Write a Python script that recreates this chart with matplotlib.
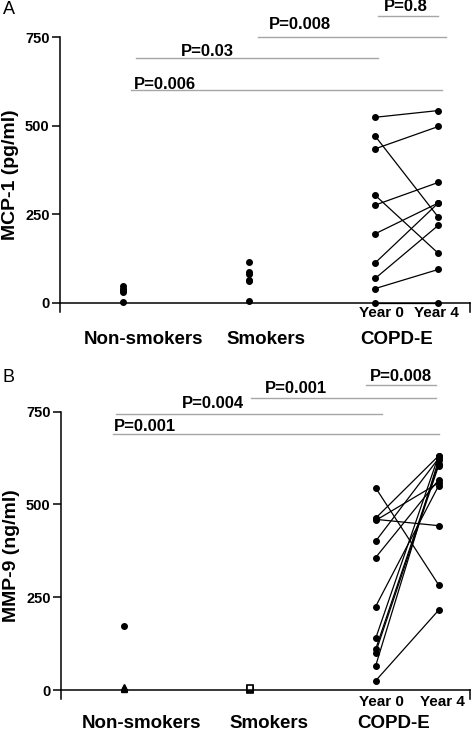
import matplotlib.pyplot as plt

plt.rcParams['font.family'] = ['Liberation Sans', 'DejaVu Sans']

W, H, DPI = 473, 732, 100

groups = ['Non-smokers', 'Smokers', 'COPD-E']
years = ['Year 0', 'Year 4']

# panel A: MCP-1 (pg/ml)
mcp_nonsmokers = [3, 30, 35, 40, 47]
mcp_smokers = [5, 60, 65, 80, 88, 115]
mcp_year0 = [524, 470, 435, 303, 276, 195, 113, 69, 40, 0]
mcp_year4 = [543, 241, 498, 139, 340, 282, 282, 219, 94, 0]
mcp_pvals = ['P=0.8', 'P=0.008', 'P=0.03', 'P=0.006']

# panel B: MMP-9 (ng/ml)
mmp_nonsmokers_dot = [172]
mmp_nonsmokers_tri = [2, 5, 8]
mmp_smokers = [1, 3, 5]
mmp_year0 = [545, 463, 460, 457, 401, 357, 225, 139, 110, 101, 65, 25]
mmp_year4 = [284, 631, 443, 558, 624, 566, 550, 631, 610, 604, 620, 215]
mmp_pvals = ['P=0.008', 'P=0.001', 'P=0.004', 'P=0.001']

# bracket layout: (x0, x1, line y, text x, text y)
brackets_a = [(3.02, 3.50, 809, 3.24, 836),
              (2.07, 3.56, 752, 2.40, 785),
              (1.10, 3.02, 691, 1.67, 709),
              (1.06, 3.53, 600, 1.33, 616)]
brackets_b = [(2.92, 3.48, 822, 3.20, 846),
              (2.01, 3.48, 786, 2.37, 813),
              (0.94, 3.05, 744, 1.71, 772),
              (0.91, 3.50, 689, 1.17, 709)]

fig = plt.figure(figsize=(W / DPI, H / DPI), dpi=DPI)


def make_axes(left, right, top, bottom):
    return fig.add_axes([left / W, 1 - bottom / H, (right - left) / W, (bottom - top) / H])


def style_axes(ax, ylabel, ext):
    ax.set_xlim(0.5, 3.75)
    ax.set_ylim(-ext, 750)
    for s in ['top', 'right']:
        ax.spines[s].set_visible(False)
    ax.spines['left'].set_bounds(-ext, 750)
    ax.spines['left'].set_linewidth(1.1)
    ax.spines['bottom'].set_position(('data', 0))
    ax.spines['bottom'].set_linewidth(1.1)
    ax.plot([3.75, 3.75], [0, -ext], color='black', lw=1.1, clip_on=False)
    ax.set_xticks([])
    ax.set_yticks([0, 250, 500, 750])
    ax.tick_params(axis='y', length=6, width=1.1, pad=1.5, labelsize=10.5)
    for t in ax.get_yticklabels():
        t.set_fontweight('bold')
    ax.set_ylabel(ylabel, fontsize=14, fontweight='bold', labelpad=4)


def draw_pairs(ax, y0, y4):
    for a, b in zip(y0, y4):
        ax.plot([3, 3.5], [a, b], color='black', lw=0.9, marker='o', ms=4, clip_on=False)


def draw_brackets(ax, brackets, labels):
    for (x0, x1, ly, tx, ty), lab in zip(brackets, labels):
        ax.plot([x0, x1], [ly, ly], color='#a6a6a6', lw=1.0, clip_on=False)
        ax.text(tx, ty, lab, ha='center', va='center', fontsize=12, fontweight='bold')


def draw_labels(ax, label_pos, year_pos, group_y, year_y):
    tr = ax.get_xaxis_transform()
    for x, g in zip(label_pos, groups):
        ax.text(x, group_y, g, transform=tr, ha='center', va='center',
                fontsize=13.5, fontweight='bold')
    for x, yr in zip(year_pos, years):
        ax.text(x, year_y, yr, transform=tr, ha='center', va='center',
                fontsize=11, fontweight='bold')


# ---- panel A
axA = make_axes(60, 470, 37.3, 311.5)
style_axes(axA, 'MCP-1 (pg/ml)', 25)
axA.plot([1] * len(mcp_nonsmokers), mcp_nonsmokers, 'o', color='black', ms=4, clip_on=False)
axA.plot([2] * len(mcp_smokers), mcp_smokers, 'o', color='black', ms=4, clip_on=False)
draw_pairs(axA, mcp_year0, mcp_year4)
draw_brackets(axA, brackets_a, mcp_pvals)
# label y in axes fraction: axes spans 37.3..311.5 px
fa = lambda py: (311.5 - py) / (311.5 - 37.3)
draw_labels(axA, [1.16, 2.13, 3.17], [3.045, 3.48], fa(340), fa(313))
fig.text(3 / W, 1 - 10 / H, 'A', fontsize=13, va='center', ha='left')

# ---- panel B
axB = make_axes(61, 470, 411.7, 699)
style_axes(axB, 'MMP-9 (ng/ml)', 24)
axB.plot([1] * len(mmp_nonsmokers_dot), mmp_nonsmokers_dot, 'o', color='black', ms=4, clip_on=False)
axB.plot([1] * len(mmp_nonsmokers_tri), mmp_nonsmokers_tri, '^', color='black', ms=4.5, clip_on=False)
axB.plot([2] * len(mmp_smokers), mmp_smokers, 's', mfc='white', mec='black', mew=1.2, ms=4,
         clip_on=False)
draw_pairs(axB, mmp_year0, mmp_year4)
draw_brackets(axB, brackets_b, mmp_pvals)
fb = lambda py: (699 - py) / (699 - 411.7)
draw_labels(axB, [1.14, 2.15, 3.14], [3.045, 3.53], fb(723), fb(702))
fig.text(3 / W, 1 - 378 / H, 'B', fontsize=13, va='center', ha='left')

fig.savefig('out.png', dpi=DPI)
